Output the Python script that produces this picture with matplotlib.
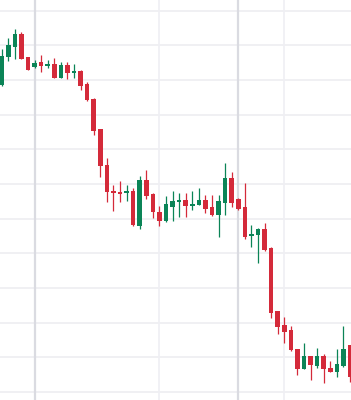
import numpy as np
import matplotlib
matplotlib.use("Agg")
import matplotlib.pyplot as plt

opens = [98.6, 106.5, 109.6, 113.3, 106.5, 103.7, 105.1, 103.9, 104.5, 100.7,
         104.3, 102.1, 102.7, 98.8, 94.5, 85.8, 75.5, 68.0, 67.8, 67.3,
         68.1, 58.0, 71.2, 67.0, 61.9, 59.4, 63.5, 64.7, 65.4, 63.7,
         64.0, 65.4, 63.4, 61.0, 64.4, 71.7, 65.7, 63.4, 55.0, 55.2,
         56.9, 51.5, 33.4, 29.3, 27.9, 22.3, 16.6, 20.4, 17.6, 20.4,
         16.9, 15.9, 17.4, 23.5]
highs = [108.9, 112.2, 114.6, 113.9, 106.6, 105.7, 107.2, 105.7, 106.4, 105.1,
         105.2, 104.5, 103.0, 99.5, 94.8, 85.9, 77.5, 69.6, 71.0, 69.7,
         68.8, 72.3, 74.1, 67.3, 63.6, 66.5, 68.0, 67.5, 67.3, 68.0,
         68.9, 66.7, 66.7, 66.7, 76.0, 73.4, 66.0, 70.2, 58.2, 57.3,
         58.8, 51.8, 33.5, 31.5, 29.0, 22.4, 24.2, 20.5, 22.8, 20.9,
         19.0, 22.4, 29.1, 23.5]
lows = [98.3, 105.5, 106.0, 106.0, 102.8, 103.5, 102.3, 103.6, 100.6, 100.6,
        100.2, 100.7, 97.2, 93.9, 84.0, 72.1, 64.7, 62.3, 64.9, 65.2,
        57.9, 57.0, 65.6, 60.2, 58.0, 59.1, 59.4, 60.5, 60.4, 62.4,
        63.9, 61.5, 60.9, 54.6, 61.1, 63.5, 62.6, 54.0, 51.7, 47.2,
        50.7, 31.3, 26.6, 24.2, 21.8, 15.0, 16.5, 13.4, 16.9, 12.5,
        15.7, 14.4, 17.3, 12.9]
closes = [106.9, 110.0, 113.3, 106.2, 103.0, 105.0, 104.1, 104.5, 100.7, 104.3,
          102.1, 102.7, 98.4, 94.1, 85.4, 75.1, 67.6, 67.3, 67.1, 68.1,
          58.1, 71.2, 66.6, 61.8, 59.2, 64.1, 65.1, 65.5, 63.7, 64.3,
          65.4, 62.9, 61.0, 65.1, 71.7, 64.4, 62.8, 54.7, 55.6, 56.9,
          51.0, 32.9, 28.8, 27.4, 22.1, 16.5, 20.4, 17.7, 20.4, 16.5,
          15.8, 18.0, 22.4, 14.4]

grid_prices = [120, 110, 100, 90, 80, 70, 60, 50, 40, 30, 20, 10]
major_vlines = [5, 36]
minor_vlines = [24, 43]

GREEN = "#0b8457"
RED = "#d42a3a"

o = np.array(opens); h = np.array(highs); l = np.array(lows); c = np.array(closes)
x = np.arange(len(o))
up = c >= o
colors = np.where(up, GREEN, RED)

fig = plt.figure(figsize=(3.51, 4.0), dpi=100)
ax = fig.add_axes([0, 0, 1, 1])
ax.set_facecolor("white")

for gp in grid_prices:
    ax.axhline(gp, color="#ececf0", lw=1.1, zorder=0)
for vx in major_vlines:
    ax.axvline(vx, color="#dadbe1", lw=1.6, zorder=0)
for vx in minor_vlines:
    ax.axvline(vx, color="#efeff3", lw=1.2, zorder=0)

ax.vlines(x, l, h, colors=colors, lw=0.9, zorder=2)
heights = np.maximum(np.abs(c - o), 0.6)
bottoms = np.minimum(o, c)
ax.bar(x, heights, bottom=bottoms, width=0.7, color=colors, zorder=3, linewidth=0)

ax.set_xlim(-0.26, 53.15)
ax.set_ylim(7.69, 123.08)
ax.set_xticks([]); ax.set_yticks([])
for s in ax.spines.values():
    s.set_visible(False)

fig.savefig("out.png", dpi=100)
